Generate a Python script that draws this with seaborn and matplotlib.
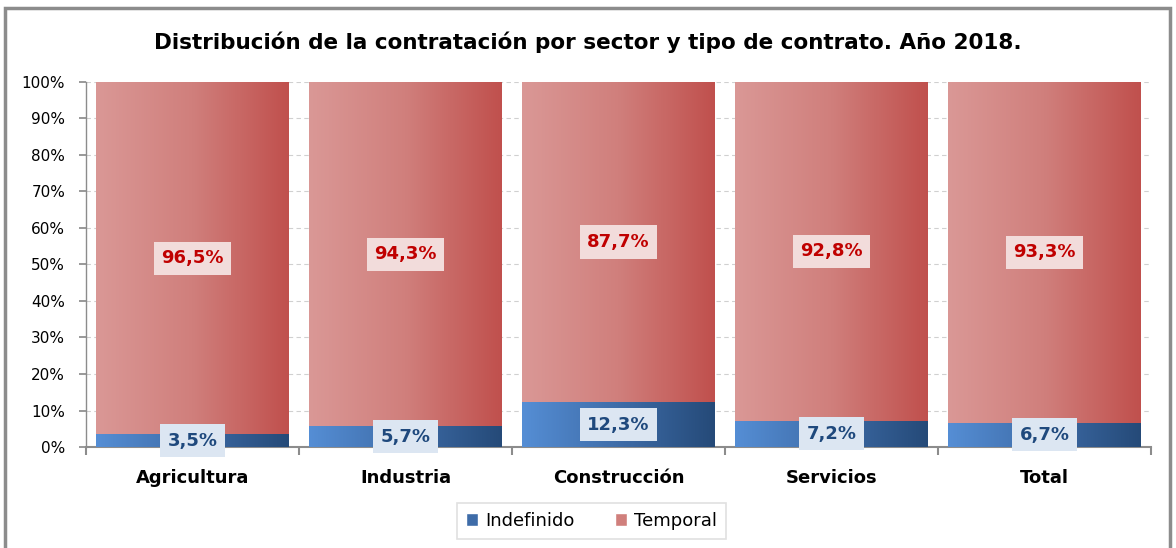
import numpy as np
import pandas as pd
import matplotlib
matplotlib.use("Agg")
import matplotlib.pyplot as plt
import seaborn as sns
from matplotlib.colors import LinearSegmentedColormap
from matplotlib.patches import Rectangle, Patch

sectores = ["Agricultura", "Industria", "Construcción", "Servicios", "Total"]
indefinido = [3.5, 5.7, 12.3, 7.2, 6.7]
temporal = [96.5, 94.3, 87.7, 92.8, 93.3]

df = pd.DataFrame({"sector": sectores, "indefinido": indefinido, "temporal": temporal})
df["tope"] = df["indefinido"] + df["temporal"]

sns.set_theme(style="white")
plt.rcParams["font.family"] = ["DejaVu Sans"]
plt.rcParams["text.color"] = "black"
plt.rcParams["xtick.labelcolor"] = "black"
plt.rcParams["ytick.labelcolor"] = "black"

red_cmap = LinearSegmentedColormap.from_list("rojo", ["#da9896", "#d07f7c", "#c0504d"])
blue_cmap = LinearSegmentedColormap.from_list("azul", ["#558ed5", "#3e6ca8", "#254a78"])

fig = plt.figure(figsize=(11.76, 5.48), dpi=100)
ax = fig.add_axes([0.0731, 0.1843, 0.9056, 0.6661])

# marco exterior
fig.patches.append(Rectangle((5 / 1176, -0.05), 1165 / 1176, 1 - 8 / 548 + 0.05,
                             transform=fig.transFigure, fill=False,
                             edgecolor="#8c8c8c", linewidth=2.5))

bw = 0.905
sns.barplot(data=df, x="sector", y="tope", color="#c0504d", width=bw, ax=ax,
            saturation=1, errorbar=None, zorder=2)
n_red = len(ax.patches)
sns.barplot(data=df, x="sector", y="indefinido", color="#558ed5", width=bw, ax=ax,
            saturation=1, errorbar=None, zorder=3)

# degradado horizontal dentro de cada barra
grad = np.linspace(0, 1, 256).reshape(1, -1)
for i, p in enumerate(ax.patches):
    cmap = red_cmap if i < n_red else blue_cmap
    x0, y0 = p.get_x(), p.get_y()
    w, h = p.get_width(), p.get_height()
    im = ax.imshow(grad, extent=[x0, x0 + w, y0, y0 + h], aspect="auto",
                   cmap=cmap, zorder=p.get_zorder(), interpolation="bilinear")
    im.set_clip_path(p)
    p.set_facecolor("none")
    p.set_edgecolor("none")

ax.set_xlim(-0.5, len(sectores) - 0.5)
ax.set_ylim(0, 100)

# etiquetas
for i in range(len(sectores)):
    ax.text(i, indefinido[i] + temporal[i] / 2, f"{temporal[i]:.1f}%".replace(".", ","),
            ha="center", va="center", fontsize=13, fontweight="bold", color="#c00000",
            bbox=dict(boxstyle="square,pad=0.42", fc="#f2dcdb", ec="none"), zorder=5)
    ax.text(i, indefinido[i] / 2, f"{indefinido[i]:.1f}%".replace(".", ","),
            ha="center", va="center", fontsize=13, fontweight="bold", color="#1f497d",
            bbox=dict(boxstyle="square,pad=0.42", fc="#dce6f2", ec="none"), zorder=5,
            clip_on=False)

ax.set_yticks(range(0, 101, 10))
ax.set_yticklabels([f"{v}%" for v in range(0, 101, 10)], fontsize=11)
ax.yaxis.grid(True, color="#d0d0d0", linestyle=(0, (4, 3)), linewidth=0.8)
ax.set_axisbelow(True)
ax.tick_params(axis="y", left=True, length=5, color="#8c8c8c", pad=10)
ax.set_xticks(range(len(sectores)))
ax.set_xticklabels(sectores, fontsize=13, fontweight="bold")
ax.tick_params(axis="x", which="major", length=0, pad=16)
ax.set_xticks(np.arange(-0.5, len(sectores)), minor=True)
ax.tick_params(axis="x", which="minor", bottom=True, length=6, color="#8c8c8c", width=1.5)
ax.set_xlabel("")
ax.set_ylabel("")
for s in ["top", "right"]:
    ax.spines[s].set_visible(False)
for s in ["left", "bottom"]:
    ax.spines[s].set_color("#8c8c8c")
    ax.spines[s].set_linewidth(1.5 if s == "bottom" else 1)

fig.text(0.5, 0.922, "Distribución de la contratación por sector y tipo de contrato. Año 2018.",
         ha="center", va="center", fontsize=15.5, fontweight="bold", color="black")

handles = [Patch(facecolor="#3e6ca8", label="Indefinido"),
           Patch(facecolor="#d07f7c", label="Temporal")]
leg = fig.legend(handles=handles, loc="center", bbox_to_anchor=(0.503, 0.050), ncol=2,
                 fontsize=13, frameon=True, fancybox=False, edgecolor="#d9d9d9",
                 handlelength=0.7, handleheight=0.7, columnspacing=2.2,
                 handletextpad=0.4, borderpad=0.5)
leg.get_frame().set_linewidth(1.2)

fig.savefig("out.png", dpi=100)
